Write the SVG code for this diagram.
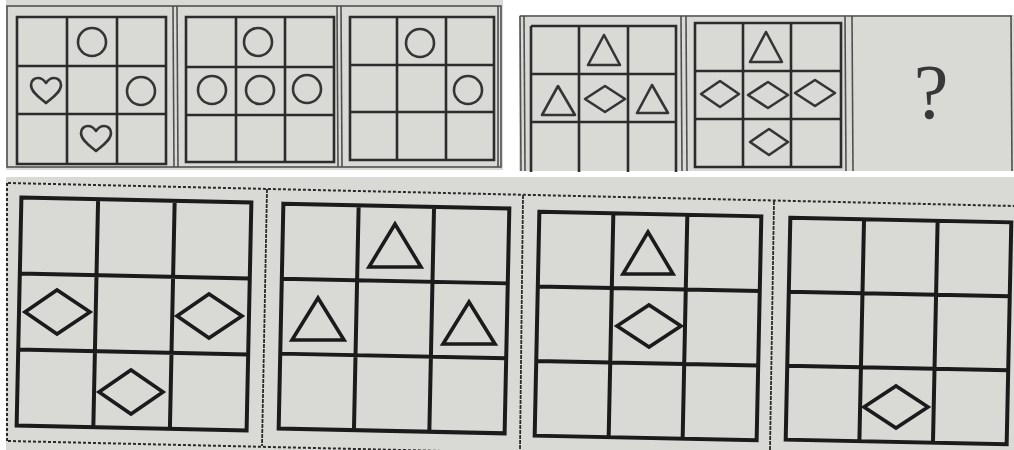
<svg xmlns="http://www.w3.org/2000/svg" width="1014" height="450" viewBox="0 0 1014 450">
<style>
.photo{fill:#d9d9d5}
.frame{fill:none;stroke:#505050;stroke-width:1.6}
.tg{fill:none;stroke:#2c2c2c;stroke-width:2.6}
.ts{fill:none;stroke:#353535;stroke-width:2.6;stroke-linejoin:round}
.bg{fill:none;stroke:#1b1b1b;stroke-width:4}
.bs{fill:none;stroke:#1b1b1b;stroke-width:3.6;stroke-linejoin:miter}
.dot{fill:none;stroke:#2a2a2a;stroke-width:2;stroke-dasharray:3 2}
.div{fill:none;stroke:#2a2a2a;stroke-width:1.8;stroke-dasharray:4 1}
</style>
<rect width="1014" height="450" fill="#ffffff"/>
<!-- photo backgrounds -->
<rect class="photo" x="6" y="0" width="497" height="170"/>
<rect class="photo" x="519" y="15" width="495" height="156"/>
<rect class="photo" x="6" y="177" width="1008" height="273"/>

<!-- top-left frame -->
<g id="frame-top-left">
<rect class="frame" x="7" y="6" width="494" height="161"/>
<line class="frame" x1="173" y1="6" x2="174" y2="167"/>
<line class="frame" x1="177" y1="6" x2="178" y2="167"/>
<line class="frame" x1="337" y1="6" x2="338" y2="167"/>
<line class="frame" x1="341" y1="6" x2="342" y2="167"/>
<line class="frame" x1="498" y1="6" x2="498" y2="167"/>
</g>

<g id="panel-1">
<path class="tg" d="M17,17H166V164H17Z M67,17V164 M117,17V164 M17,66H166 M17,114H166"/>
<circle class="ts" cx="92" cy="42" r="14"/>
<circle class="ts" cx="141" cy="91" r="14"/>
<path class="ts" d="M46,103 C42,99 31,93 31,85 C31,80 35,78 38,78 C42,78 44,80 46,83 C48,80 50,78 54,78 C57,78 61,80 61,85 C61,93 50,99 46,103 Z"/>
<path class="ts" d="M96,151 C92,147 81,141 81,133 C81,128 85,126 88,126 C92,126 94,128 96,131 C98,128 100,126 104,126 C107,126 111,128 111,133 C111,141 100,147 96,151 Z"/>
</g>

<g id="panel-2">
<path class="tg" d="M186,17H334V162H186Z M236,17V162 M285,17V162 M186,67H334 M186,115H334"/>
<circle class="ts" cx="258" cy="42" r="14"/>
<circle class="ts" cx="212" cy="90" r="14"/>
<circle class="ts" cx="260" cy="90" r="14"/>
<circle class="ts" cx="307" cy="89" r="14"/>
</g>

<g id="panel-3">
<path class="tg" d="M350,17H494V160H350Z M397,17V160 M446,17V160 M350,65H494 M350,112H494"/>
<circle class="ts" cx="420" cy="43" r="14"/>
<circle class="ts" cx="468" cy="90" r="14"/>
</g>

<!-- top-right frame -->
<g id="frame-top-right">
<line class="frame" x1="520" y1="16" x2="521" y2="171"/>
<line class="frame" x1="524" y1="16" x2="525" y2="171"/>
<line class="frame" x1="520" y1="16" x2="1012" y2="16"/>
<line class="frame" x1="681" y1="16" x2="682" y2="171"/>
<line class="frame" x1="686" y1="16" x2="687" y2="171"/>
<line class="frame" x1="845" y1="16" x2="846" y2="171"/>
<line class="frame" x1="852" y1="16" x2="853" y2="171"/>
<line class="frame" x1="1011" y1="16" x2="1012" y2="171"/>
</g>

<g id="panel-4">
<path class="tg" d="M531,26H676V172 M531,26V172 M579,26V172 M628,26V172 M531,74H676 M531,122H676"/>
<polygon class="ts" points="604,35 588,65 620,65"/>
<polygon class="ts" points="558,86 542,115 575,115"/>
<polygon class="ts" points="652,85 637,113 668,113"/>
<polygon class="ts" points="585,99 605,86 625,99 605,112"/>
</g>

<g id="panel-5">
<path class="tg" d="M695,23H841V167H695Z M743,23V167 M791,23V167 M695,71H841 M695,119H841"/>
<polygon class="ts" points="766,32 750,62 782,62"/>
<polygon class="ts" points="701,94 720,81 739,94 720,107"/>
<polygon class="ts" points="748,95 768,82 788,95 768,108"/>
<polygon class="ts" points="795,93 815,80 835,93 815,106"/>
<polygon class="ts" points="750,142 769,129 788,142 769,155"/>
</g>

<g id="panel-question">
<text x="931" y="118" font-family="'Liberation Serif', serif" font-size="78" fill="#383838" text-anchor="middle">?</text>
</g>

<!-- bottom frame -->
<g id="frame-bottom">
<line class="dot" x1="8" y1="183" x2="1014" y2="206"/>
<line class="dot" x1="8" y1="441" x2="1014" y2="464"/>
<line class="dot" x1="7" y1="183" x2="7" y2="441"/>
<line class="div" x1="267" y1="189" x2="262" y2="446"/>
<line class="div" x1="523" y1="195" x2="520" y2="450"/>
<line class="div" x1="774" y1="201" x2="770" y2="450"/>
</g>

<g id="option-1">
<path class="bg" transform="rotate(1.2 134 314)" d="M19,200H249V428H19Z M95.7,200V428 M172.3,200V428 M19,276H249 M19,352H249"/>
<polygon class="bs" points="25,312 57,290 90,312 57,334"/>
<polygon class="bs" points="177,316 209,294 242,316 209,338"/>
<polygon class="bs" points="99,392 131,370 163,392 131,414"/>
</g>

<g id="option-2">
<path class="bg" transform="rotate(1.2 394 318.5)" d="M281,206H507V431H281Z M356.3,206V431 M431.7,206V431 M281,281H507 M281,356H507"/>
<polygon class="bs" points="395,224 369,267 421,267"/>
<polygon class="bs" points="318,298 292,340 344,340"/>
<polygon class="bs" points="469,302 443,344 495,344"/>
</g>

<g id="option-3">
<path class="bg" transform="rotate(1.2 648 326)" d="M537,214H759V438H537Z M611,214V438 M685,214V438 M537,288.7H759 M537,363.3H759"/>
<polygon class="bs" points="648,232 623,274 673,274"/>
<polygon class="bs" points="617,326 649,305 681,326 649,347"/>
</g>

<g id="option-4">
<path class="bg" transform="rotate(1.2 898.5 331)" d="M788,220H1009V442H788Z M861.7,220V442 M935.3,220V442 M788,294H1009 M788,368H1009"/>
<polygon class="bs" points="864,407 896,386 928,407 896,428"/>
</g>
</svg>
